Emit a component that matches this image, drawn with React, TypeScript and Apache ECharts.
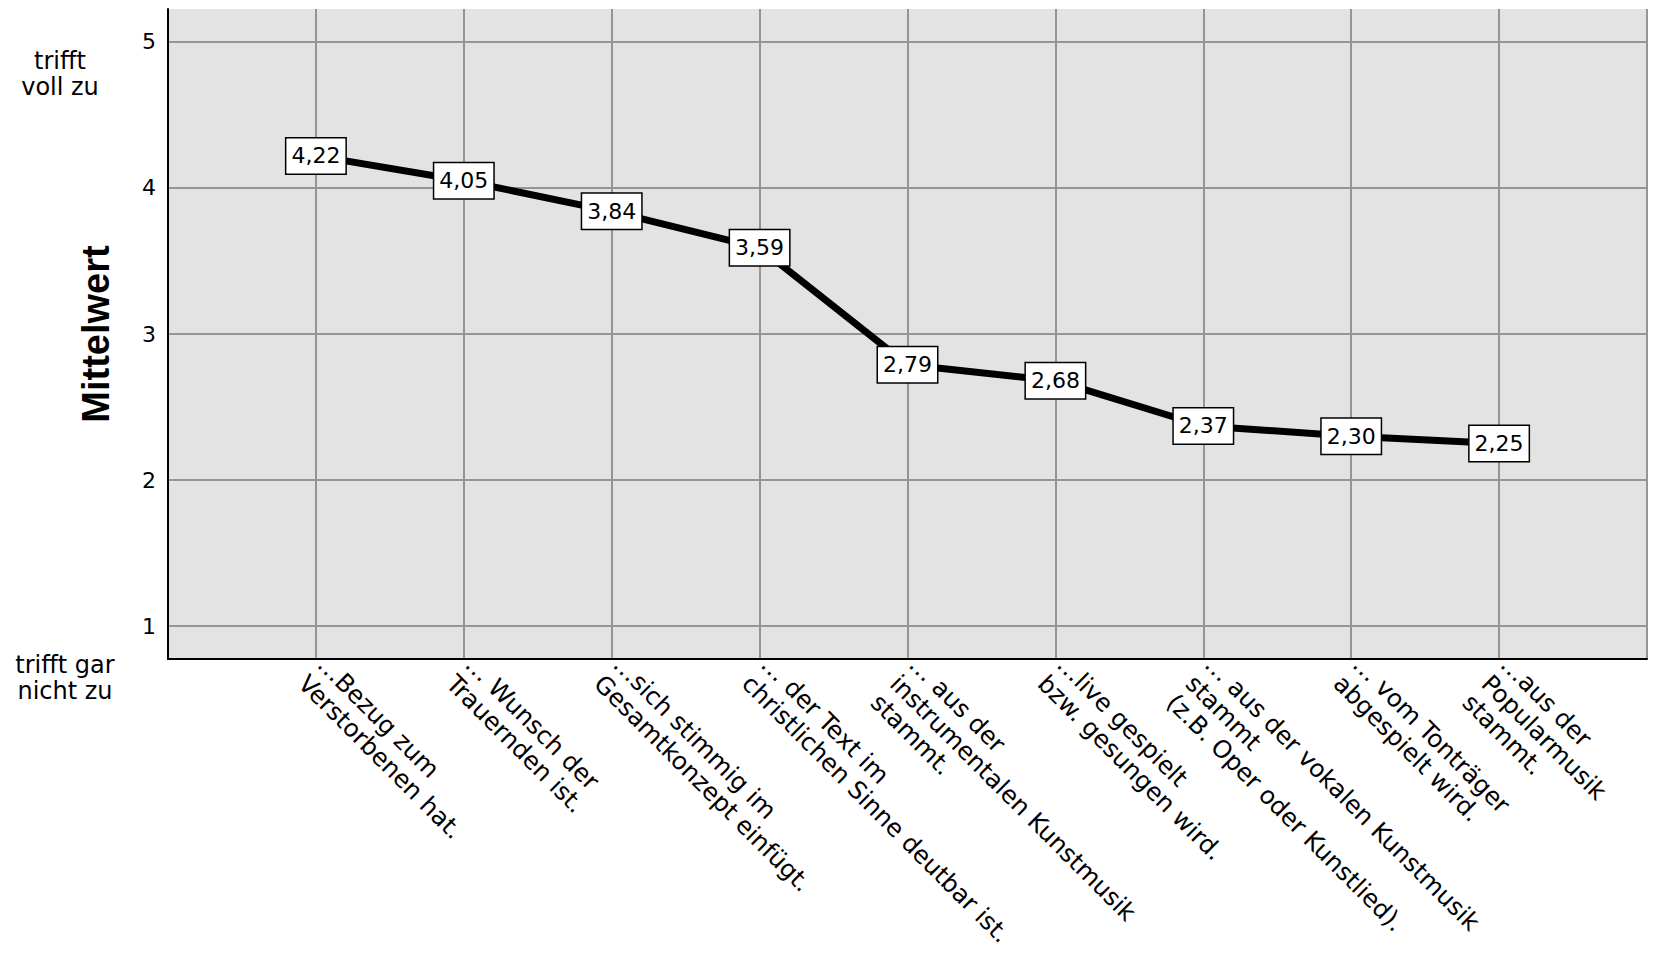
import { useEffect, useRef } from 'react';
import * as echarts from 'echarts';

const categories = [
  '…Bezug zum\nVerstorbenen hat.',
  '… Wunsch der\nTrauernden ist.',
  '…sich stimmig im\nGesamtkonzept einfügt.',
  '… der Text im\nchristlichen Sinne deutbar ist.',
  '… aus der\ninstrumentalen Kunstmusik\nstammt.',
  '…live gespielt\nbzw. gesungen wird.',
  '… aus der vokalen Kunstmusik\nstammt\n(z.B. Oper oder Kunstlied).',
  '… vom Tonträger\nabgespielt wird.',
  '…aus der\nPopularmusik\nstammt.',
];

const means = [4.22, 4.05, 3.84, 3.59, 2.79, 2.68, 2.37, 2.3, 2.25];

const yTicks = [1, 2, 3, 4, 5];
const yMin = 0.774;
const yMax = 5.226;

const topNote = 'trifft\nvoll zu';
const bottomNote = 'trifft gar\nnicht zu';
const yTitle = 'Mittelwert';

const FONT = 'DejaVu Sans';

export default function App() {
  const chartRef = useRef<HTMLDivElement | null>(null);

  useEffect(() => {
    document.body.style.margin = '0';
    if (!chartRef.current) {
      return;
    }

    const chart = echarts.init(chartRef.current, null, { renderer: 'svg' });

    // pad the category axis with an empty slot on each side
    const xData = ['', ...categories, ''];
    const seriesData = means.map((v, i) => [i + 1, v]);

    chart.setOption({
      animation: false,
      backgroundColor: '#ffffff',
      grid: {
        left: 168,
        right: 7,
        top: 9,
        bottom: 295,
        show: true,
        backgroundColor: '#e3e3e3',
        borderWidth: 0,
        containLabel: false,
        outerBoundsMode: 'none',
      },
      xAxis: {
        type: 'category',
        data: xData,
        boundaryGap: false,
        axisLine: { show: true, lineStyle: { color: '#000', width: 2 } },
        axisTick: { show: false },
        splitLine: { show: true, lineStyle: { color: '#959595', width: 2 } },
        axisLabel: {
          interval: 0,
          rotate: -45,
          align: 'left',
          verticalAlign: 'top',
          margin: -24,
          padding: [0, 0, 0, 22],
          color: '#000',
          fontFamily: FONT,
          fontSize: 24.5,
          lineHeight: 27,
        },
      },
      yAxis: {
        type: 'value',
        min: yMin,
        max: yMax,
        name: yTitle,
        nameLocation: 'middle',
        nameRotate: 90,
        nameGap: 53,
        nameTextStyle: {
          color: '#000',
          fontFamily: 'Liberation Sans',
          fontWeight: 'bold',
          fontSize: 38,
        },
        axisLine: { show: true, lineStyle: { color: '#000', width: 2 } },
        axisTick: { show: false, customValues: yTicks },
        splitLine: { show: true, lineStyle: { color: '#959595', width: 2 } },
        axisLabel: {
          customValues: yTicks,
          margin: 12,
          color: '#000',
          fontFamily: FONT,
          fontSize: 22,
          formatter: (v: number) => String(Math.round(v)),
        },
      },
      graphic: [
        {
          type: 'text',
          x: 60,
          y: 74,
          style: {
            text: topNote,
            fill: '#000',
            font: `24px "${FONT}"`,
            lineHeight: 26,
            align: 'center',
            verticalAlign: 'middle',
          },
        },
        {
          type: 'text',
          x: 65,
          y: 678,
          style: {
            text: bottomNote,
            fill: '#000',
            font: `24px "${FONT}"`,
            lineHeight: 26,
            align: 'center',
            verticalAlign: 'middle',
          },
        },
      ],
      series: [
        {
          type: 'line',
          data: seriesData,
          symbol: 'circle',
          symbolSize: 1,
          showSymbol: true,
          itemStyle: { color: '#000' },
          lineStyle: { color: '#000', width: 7 },
          label: {
            show: true,
            position: 'inside',
            formatter: (p: { value: number[] }) => p.value[1].toFixed(2).replace('.', ','),
            color: '#000',
            fontFamily: FONT,
            fontSize: 22,
            backgroundColor: '#ffffff',
            borderColor: '#000',
            borderWidth: 1.5,
            padding: [7, 5, 6, 5],
          },
        },
      ],
    });

    return () => {
      chart.dispose();
    };
  }, []);

  return <div ref={chartRef} style={{ width: 1654, height: 954 }} />;
}
